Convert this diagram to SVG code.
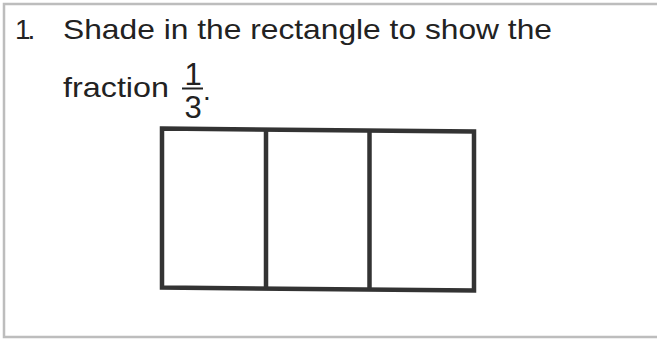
<svg xmlns="http://www.w3.org/2000/svg" width="657" height="339" viewBox="0 0 657 339">
<style>
.t{font-family:"Liberation Sans","DejaVu Sans",sans-serif;font-size:28px;fill:#222}
.f{font-family:"Liberation Sans","DejaVu Sans",sans-serif;font-size:31px;fill:#222}
.box{fill:none;stroke:#333;stroke-width:4.5;stroke-linejoin:miter}
.frame{stroke:#bdbdbd;stroke-width:2.5;fill:none}
</style>
<rect width="657" height="339" fill="#fff"/>
<g id="frame">
<path class="frame" d="M657,4 H4 V337 H657"/>
</g>
<g id="question">
<text class="t" x="15" y="39" dx="0 -3">1.</text>
<text class="t" x="63" y="39" textLength="489" lengthAdjust="spacingAndGlyphs">Shade in the rectangle to show the</text>
<text class="t" x="63" y="97" textLength="106" lengthAdjust="spacingAndGlyphs">fraction</text>
</g>
<g id="fraction">
<text class="f" x="193" y="85" text-anchor="middle">1</text>
<line x1="182" y1="88.5" x2="203" y2="88.5" stroke="#222" stroke-width="2"/>
<text class="f" x="193" y="118" text-anchor="middle">3</text>
<text class="t" x="203" y="100">.</text>
</g>
<g id="rectangle">
<path class="box" d="M162,128.5 L474,131.5 L474,290.5 L162,287.5 Z"/>
<line class="box" x1="266" y1="129.5" x2="266" y2="288.5"/>
<line class="box" x1="369.5" y1="130.5" x2="369.5" y2="289.5"/>
</g>
</svg>
